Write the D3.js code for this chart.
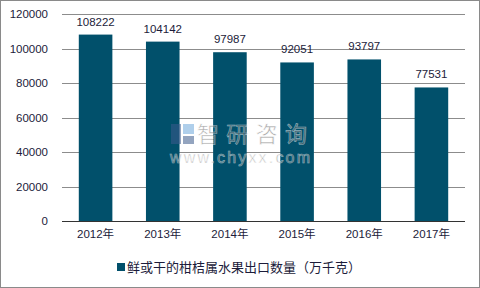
<!DOCTYPE html>
<html><head><meta charset="utf-8">
<script src="https://cdn.jsdelivr.net/npm/d3@7"></script>
<style>body{margin:0;background:#fff}svg{display:block}</style>
</head><body>
<script>
const categories = ["2012年","2013年","2014年","2015年","2016年","2017年"];
const values = [108222,104142,97987,92051,93797,77531];
const yTicks = [0,20000,40000,60000,80000,100000,120000];
const legendLabel = "鲜或干的柑桔属水果出口数量（万千克）";

const W = 480, H = 288;
const svg = d3.select("body").append("svg").attr("width", W).attr("height", H);
svg.append("rect").attr("x",0.5).attr("y",0.5).attr("width",W-1).attr("height",H-1)
  .attr("fill","#fff").attr("stroke","#8a8a8a");

const font = "Arial, 'Liberation Sans', 'Noto Sans CJK SC', sans-serif";
const x = d3.scaleBand().domain(categories).range([62,465]).paddingInner(0.5).paddingOuter(0.25);
const y = d3.scaleLinear().domain([0,120000]).range([221,14.3]);
const barColor = "#01506B";

// gridlines
svg.append("g").selectAll("line").data(yTicks.filter(d=>d>0)).join("line")
  .attr("x1",62).attr("x2",465).attr("y1",d=>Math.round(y(d))+0.5).attr("y2",d=>Math.round(y(d))+0.5)
  .attr("stroke","#8c8c8c").attr("stroke-width",1);

// y axis labels
const yAxis = d3.axisLeft(y).tickValues(yTicks).tickSize(0).tickPadding(0).tickFormat(d3.format("d"));
const yg = svg.append("g").attr("transform","translate(48,0)").call(yAxis);
yg.select(".domain").remove();
yg.selectAll("text").attr("font-family",font).attr("font-size","11.5px").attr("fill","#1c1c3a");

// bars
svg.append("g").selectAll("rect").data(values).join("rect")
  .attr("x",(d,i)=>x(categories[i])).attr("width",x.bandwidth())
  .attr("y",d=>y(d)).attr("height",d=>y(0)-y(d)).attr("fill",barColor);

// value labels
svg.append("g").selectAll("text").data(values).join("text")
  .attr("x",(d,i)=>x(categories[i])+x.bandwidth()/2).attr("y",d=>y(d)-9)
  .attr("text-anchor","middle").attr("font-family",font).attr("font-size","11.5px")
  .attr("fill","#1c1c3a").text(d=>d);

// x axis
const xAxis = d3.axisBottom(x).tickSize(0).tickPadding(9);
const xg = svg.append("g").attr("transform",`translate(0,${Math.round(y(0))})`).call(xAxis);
xg.select(".domain").attr("stroke","#333").attr("d","M62,0.5H465");
xg.selectAll("text").attr("font-family",font).attr("font-size","11.5px").attr("fill","#1c1c3a");

// legend
const lg = svg.append("g").attr("transform","translate(117,263)");
lg.append("rect").attr("width",8).attr("height",8).attr("fill",barColor);
lg.append("text").attr("x",10).attr("y",9).attr("font-family",font).attr("font-size","13px")
  .attr("fill","#1c1c3a").text(legendLabel);

// watermark
const wm = svg.append("g").attr("opacity",0.55);
wm.append("rect").attr("x",171).attr("y",124).attr("width",10).attr("height",20).attr("fill","#3c5a8c");
wm.append("rect").attr("x",183).attr("y",124).attr("width",11).attr("height",10).attr("fill","#6fa8dc");
wm.append("rect").attr("x",183).attr("y",136).attr("width",11).attr("height",8).attr("fill","#3c5a8c");
wm.append("text").attr("x",197).attr("y",142).attr("font-family","'Noto Sans CJK SC', sans-serif")
  .attr("font-size","22px").attr("fill","#6a6a6a").attr("stroke","#fff").attr("stroke-width",0.6)
  .attr("textLength",110).text("智研咨询");
wm.append("text").attr("x",170).attr("y",163).attr("font-family",font)
  .attr("font-size","16px").attr("fill","#6a6a6a").attr("stroke","#fff").attr("stroke-width",0.6)
  .attr("textLength",140).text("www.chyxx.com");
</script>
</body></html>
